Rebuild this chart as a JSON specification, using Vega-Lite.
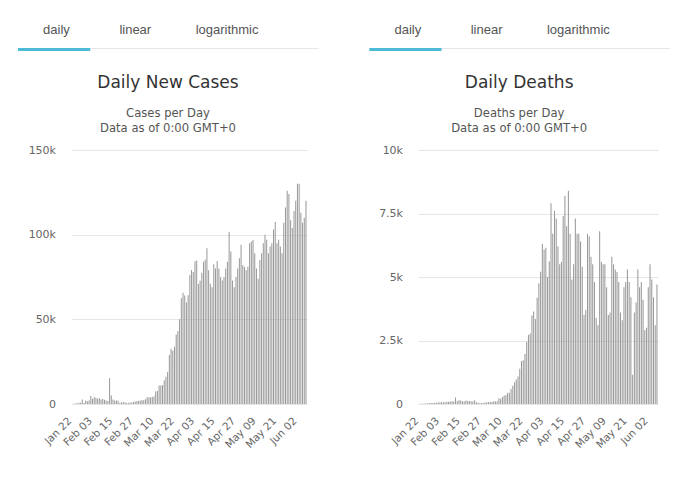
{
  "$schema": "https://vega.github.io/schema/vega-lite/v6.json",
  "padding": {"left": 18, "top": 23, "right": 0, "bottom": 0},
  "background": "white",
  "config": {"view": {"stroke": null}, "font": "DejaVu Sans"},
  "spacing": -2,
  "datasets": {
    "covid": [
      {"date":"Jan 22","cases":0,"deaths":0},{"date":"Jan 23","cases":100,"deaths":8},{"date":"Jan 24","cases":290,"deaths":16},{"date":"Jan 25","cases":490,"deaths":15},{"date":"Jan 26","cases":680,"deaths":24},{"date":"Jan 27","cases":810,"deaths":26},{"date":"Jan 28","cases":2650,"deaths":26},{"date":"Jan 29","cases":590,"deaths":38},{"date":"Jan 30","cases":2070,"deaths":43},{"date":"Jan 31","cases":1690,"deaths":46},
      {"date":"Feb 01","cases":2110,"deaths":45},{"date":"Feb 02","cases":4750,"deaths":57},{"date":"Feb 03","cases":3090,"deaths":64},{"date":"Feb 04","cases":4010,"deaths":66},{"date":"Feb 05","cases":3740,"deaths":73},{"date":"Feb 06","cases":3160,"deaths":73},{"date":"Feb 07","cases":3440,"deaths":86},{"date":"Feb 08","cases":2660,"deaths":89},{"date":"Feb 09","cases":3000,"deaths":97},{"date":"Feb 10","cases":2550,"deaths":108},
      {"date":"Feb 11","cases":2070,"deaths":97},{"date":"Feb 12","cases":1820,"deaths":254},{"date":"Feb 13","cases":15150,"deaths":121},{"date":"Feb 14","cases":5090,"deaths":143},{"date":"Feb 15","cases":2640,"deaths":142},{"date":"Feb 16","cases":2010,"deaths":105},{"date":"Feb 17","cases":2050,"deaths":98},{"date":"Feb 18","cases":1890,"deaths":136},{"date":"Feb 19","cases":550,"deaths":115},{"date":"Feb 20","cases":1020,"deaths":118},
      {"date":"Feb 21","cases":1100,"deaths":109},{"date":"Feb 22","cases":1000,"deaths":97},{"date":"Feb 23","cases":600,"deaths":150},{"date":"Feb 24","cases":650,"deaths":71},{"date":"Feb 25","cases":860,"deaths":52},{"date":"Feb 26","cases":910,"deaths":29},{"date":"Feb 27","cases":1150,"deaths":44},{"date":"Feb 28","cases":1420,"deaths":37},{"date":"Feb 29","cases":1810,"deaths":58},
      {"date":"Mar 01","cases":1880,"deaths":67},{"date":"Mar 02","cases":1960,"deaths":70},{"date":"Mar 03","cases":2430,"deaths":80},{"date":"Mar 04","cases":2250,"deaths":81},{"date":"Mar 05","cases":2810,"deaths":104},{"date":"Mar 06","cases":3960,"deaths":103},{"date":"Mar 07","cases":4030,"deaths":107},{"date":"Mar 08","cases":3990,"deaths":228},{"date":"Mar 09","cases":4100,"deaths":201},{"date":"Mar 10","cases":4590,"deaths":272},
      {"date":"Mar 11","cases":7350,"deaths":328},{"date":"Mar 12","cases":7620,"deaths":352},{"date":"Mar 13","cases":10910,"deaths":439},{"date":"Mar 14","cases":10930,"deaths":440},{"date":"Mar 15","cases":11180,"deaths":594},{"date":"Mar 16","cases":13980,"deaths":716},{"date":"Mar 17","cases":16020,"deaths":852},{"date":"Mar 18","cases":18960,"deaths":965},{"date":"Mar 19","cases":28990,"deaths":1081},{"date":"Mar 20","cases":32560,"deaths":1383},
      {"date":"Mar 21","cases":31590,"deaths":1692},{"date":"Mar 22","cases":33840,"deaths":1727},{"date":"Mar 23","cases":41040,"deaths":1968},{"date":"Mar 24","cases":43050,"deaths":2439},{"date":"Mar 25","cases":50010,"deaths":2721},{"date":"Mar 26","cases":62400,"deaths":2780},{"date":"Mar 27","cases":65640,"deaths":3480},{"date":"Mar 28","cases":64060,"deaths":3640},{"date":"Mar 29","cases":59970,"deaths":3350},{"date":"Mar 30","cases":64280,"deaths":4180},{"date":"Mar 31","cases":76140,"deaths":4750},
      {"date":"Apr 01","cases":79160,"deaths":5210},{"date":"Apr 02","cases":77950,"deaths":6300},{"date":"Apr 03","cases":84290,"deaths":6080},{"date":"Apr 04","cases":84810,"deaths":6150},{"date":"Apr 05","cases":70920,"deaths":5000},{"date":"Apr 06","cases":72810,"deaths":5610},{"date":"Apr 07","cases":77570,"deaths":7900},{"date":"Apr 08","cases":84030,"deaths":6700},{"date":"Apr 09","cases":85260,"deaths":7600},{"date":"Apr 10","cases":91980,"deaths":7300},
      {"date":"Apr 11","cases":79000,"deaths":6200},{"date":"Apr 12","cases":71000,"deaths":5500},{"date":"Apr 13","cases":69000,"deaths":5600},{"date":"Apr 14","cases":82600,"deaths":7400},{"date":"Apr 15","cases":80000,"deaths":8200},{"date":"Apr 16","cases":84500,"deaths":7000},{"date":"Apr 17","cases":80000,"deaths":8400},{"date":"Apr 18","cases":75000,"deaths":6700},{"date":"Apr 19","cases":73000,"deaths":4900},{"date":"Apr 20","cases":75000,"deaths":5500},
      {"date":"Apr 21","cases":80000,"deaths":7300},{"date":"Apr 22","cases":84000,"deaths":6700},{"date":"Apr 23","cases":101700,"deaths":6700},{"date":"Apr 24","cases":90000,"deaths":6400},{"date":"Apr 25","cases":73000,"deaths":5400},{"date":"Apr 26","cases":69000,"deaths":3500},{"date":"Apr 27","cases":75000,"deaths":3700},{"date":"Apr 28","cases":80000,"deaths":6700},{"date":"Apr 29","cases":86000,"deaths":6600},{"date":"Apr 30","cases":94000,"deaths":5800},
      {"date":"May 01","cases":82000,"deaths":5500},{"date":"May 02","cases":81000,"deaths":4800},{"date":"May 03","cases":79000,"deaths":3400},{"date":"May 04","cases":81000,"deaths":3100},{"date":"May 05","cases":95000,"deaths":6800},{"date":"May 06","cases":96000,"deaths":5600},{"date":"May 07","cases":96800,"deaths":5500},{"date":"May 08","cases":89000,"deaths":5500},{"date":"May 09","cases":80000,"deaths":4600},{"date":"May 10","cases":74000,"deaths":3500},
      {"date":"May 11","cases":85000,"deaths":3600},{"date":"May 12","cases":89000,"deaths":5800},{"date":"May 13","cases":95000,"deaths":5500},{"date":"May 14","cases":100000,"deaths":5300},{"date":"May 15","cases":97000,"deaths":5200},{"date":"May 16","cases":89000,"deaths":4800},{"date":"May 17","cases":93000,"deaths":3600},{"date":"May 18","cases":95000,"deaths":3300},{"date":"May 19","cases":103000,"deaths":4600},{"date":"May 20","cases":107500,"deaths":4800},
      {"date":"May 21","cases":95000,"deaths":5300},{"date":"May 22","cases":97000,"deaths":4800},{"date":"May 23","cases":93000,"deaths":4200},{"date":"May 24","cases":89000,"deaths":1150},{"date":"May 25","cases":107000,"deaths":3600},{"date":"May 26","cases":116000,"deaths":4000},{"date":"May 27","cases":126000,"deaths":5300},{"date":"May 28","cases":124000,"deaths":4600},{"date":"May 29","cases":108500,"deaths":4800},{"date":"May 30","cases":104000,"deaths":4100},{"date":"May 31","cases":114000,"deaths":2900},
      {"date":"Jun 01","cases":120000,"deaths":3000},{"date":"Jun 02","cases":130000,"deaths":4600},{"date":"Jun 03","cases":130000,"deaths":5500},{"date":"Jun 04","cases":113000,"deaths":4900},{"date":"Jun 05","cases":107000,"deaths":4200},{"date":"Jun 06","cases":110000,"deaths":3100},{"date":"Jun 07","cases":120000,"deaths":4700}
    ]
  },
  "hconcat": [
    {
      "columns": 1,
      "spacing": 22,
      "concat": [
        {
          "width": 300, "height": 3,
          "data": {"values": [{"tab":"daily"},{"tab":"linear"},{"tab":"logarithmic"}]},
          "transform": [{"filter": "datum.tab === 'daily'"}],
          "mark": {"type": "bar", "color": "#4cbcd6", "xOffset": -53, "x2Offset": -53},
          "encoding": {
            "x": {"field": "tab", "type": "nominal",
              "scale": {"domain": ["daily","linear","logarithmic"], "paddingInner": 0.0526, "paddingOuter": 0.4934, "align": 0},
              "axis": {"orient": "top", "position": -53, "title": null, "domain": true, "domainColor": "#e6e6e6", "domainWidth": 1, "ticks": false, "grid": false, "labelAlign": "left", "labelAngle": 0, "labelOffset": -11, "labelPadding": 12, "labelFont": "Liberation Sans", "labelFontSize": 13, "labelColor": "#555555", "labelOverlap": false}
            }
          }
        },
        {
          "width": 236, "height": 254,
          "data": {"name": "covid"},
          "title": {"text": "Daily New Cases", "subtitle": ["Cases per Day", "Data as of 0:00 GMT+0"], "anchor": "middle", "frame": "bounds", "dx": 5.5, "font": "DejaVu Sans", "fontSize": 17, "fontWeight": "normal", "color": "#333333", "subtitleFont": "DejaVu Sans", "subtitleFontSize": 11.6, "subtitleColor": "#555555", "subtitlePadding": 16, "subtitleLineHeight": 15.5, "offset": 8},
          "mark": {"type": "bar", "color": "#999999"},
          "encoding": {
            "x": {"field": "date", "type": "ordinal", "sort": null, "scale": {"paddingInner": 0.4, "paddingOuter": 0.3},
              "axis": {"title": null, "values": ["Jan 22","Feb 03","Feb 15","Feb 27","Mar 10","Mar 22","Apr 03","Apr 15","Apr 27","May 09","May 21","Jun 02"], "labelAngle": -45, "labelAlign": "right", "labelBaseline": "middle", "labelPadding": 15, "labelOffset": -2, "labelFont": "DejaVu Sans", "labelFontSize": 10.5, "labelColor": "#666666", "domain": false, "ticks": false, "labelOverlap": false, "grid": false}},
            "y": {"field": "cases", "type": "quantitative", "scale": {"domain": [0, 150000], "nice": false},
              "axis": {"title": null, "values": [0, 50000, 100000, 150000], "labelExpr": "datum.value == 0 ? '0' : datum.value / 1000 + 'k'", "grid": true, "gridColor": "#e6e6e6", "domain": false, "ticks": false, "labelPadding": 15.5, "labelFont": "DejaVu Sans", "labelFontSize": 11, "labelColor": "#666666", "minExtent": 53}}
          }
        }
      ]
    },
    {
      "columns": 1,
      "spacing": 22,
      "concat": [
        {
          "width": 300, "height": 3,
          "data": {"values": [{"tab":"daily"},{"tab":"linear"},{"tab":"logarithmic"}]},
          "transform": [{"filter": "datum.tab === 'daily'"}],
          "mark": {"type": "bar", "color": "#4cbcd6", "xOffset": -48.7, "x2Offset": -48.7},
          "encoding": {
            "x": {"field": "tab", "type": "nominal",
              "scale": {"domain": ["daily","linear","logarithmic"], "paddingInner": 0.0526, "paddingOuter": 0.4934, "align": 0},
              "axis": {"orient": "top", "position": -48.7, "title": null, "domain": true, "domainColor": "#e6e6e6", "domainWidth": 1, "ticks": false, "grid": false, "labelAlign": "left", "labelAngle": 0, "labelOffset": -11, "labelPadding": 12, "labelFont": "Liberation Sans", "labelFontSize": 13, "labelColor": "#555555", "labelOverlap": false}
            }
          }
        },
        {
          "width": 240, "height": 254,
          "data": {"name": "covid"},
          "title": {"text": "Daily Deaths", "subtitle": ["Deaths per Day", "Data as of 0:00 GMT+0"], "anchor": "middle", "frame": "bounds", "dx": 5.5, "font": "DejaVu Sans", "fontSize": 17, "fontWeight": "normal", "color": "#333333", "subtitleFont": "DejaVu Sans", "subtitleFontSize": 11.6, "subtitleColor": "#555555", "subtitlePadding": 16, "subtitleLineHeight": 15.5, "offset": 8},
          "mark": {"type": "bar", "color": "#999999"},
          "encoding": {
            "x": {"field": "date", "type": "ordinal", "sort": null, "scale": {"paddingInner": 0.4, "paddingOuter": 0.3},
              "axis": {"title": null, "values": ["Jan 22","Feb 03","Feb 15","Feb 27","Mar 10","Mar 22","Apr 03","Apr 15","Apr 27","May 09","May 21","Jun 02"], "labelAngle": -45, "labelAlign": "right", "labelBaseline": "middle", "labelPadding": 15, "labelOffset": -2, "labelFont": "DejaVu Sans", "labelFontSize": 10.5, "labelColor": "#666666", "domain": false, "ticks": false, "labelOverlap": false, "grid": false}},
            "y": {"field": "deaths", "type": "quantitative", "scale": {"domain": [0, 10000], "nice": false},
              "axis": {"title": null, "values": [0, 2500, 5000, 7500, 10000], "labelExpr": "datum.value == 0 ? '0' : datum.value / 1000 + 'k'", "grid": true, "gridColor": "#e6e6e6", "domain": false, "ticks": false, "labelPadding": 15.5, "labelFont": "DejaVu Sans", "labelFontSize": 11, "labelColor": "#666666", "minExtent": 48.7}}
          }
        }
      ]
    }
  ]
}
